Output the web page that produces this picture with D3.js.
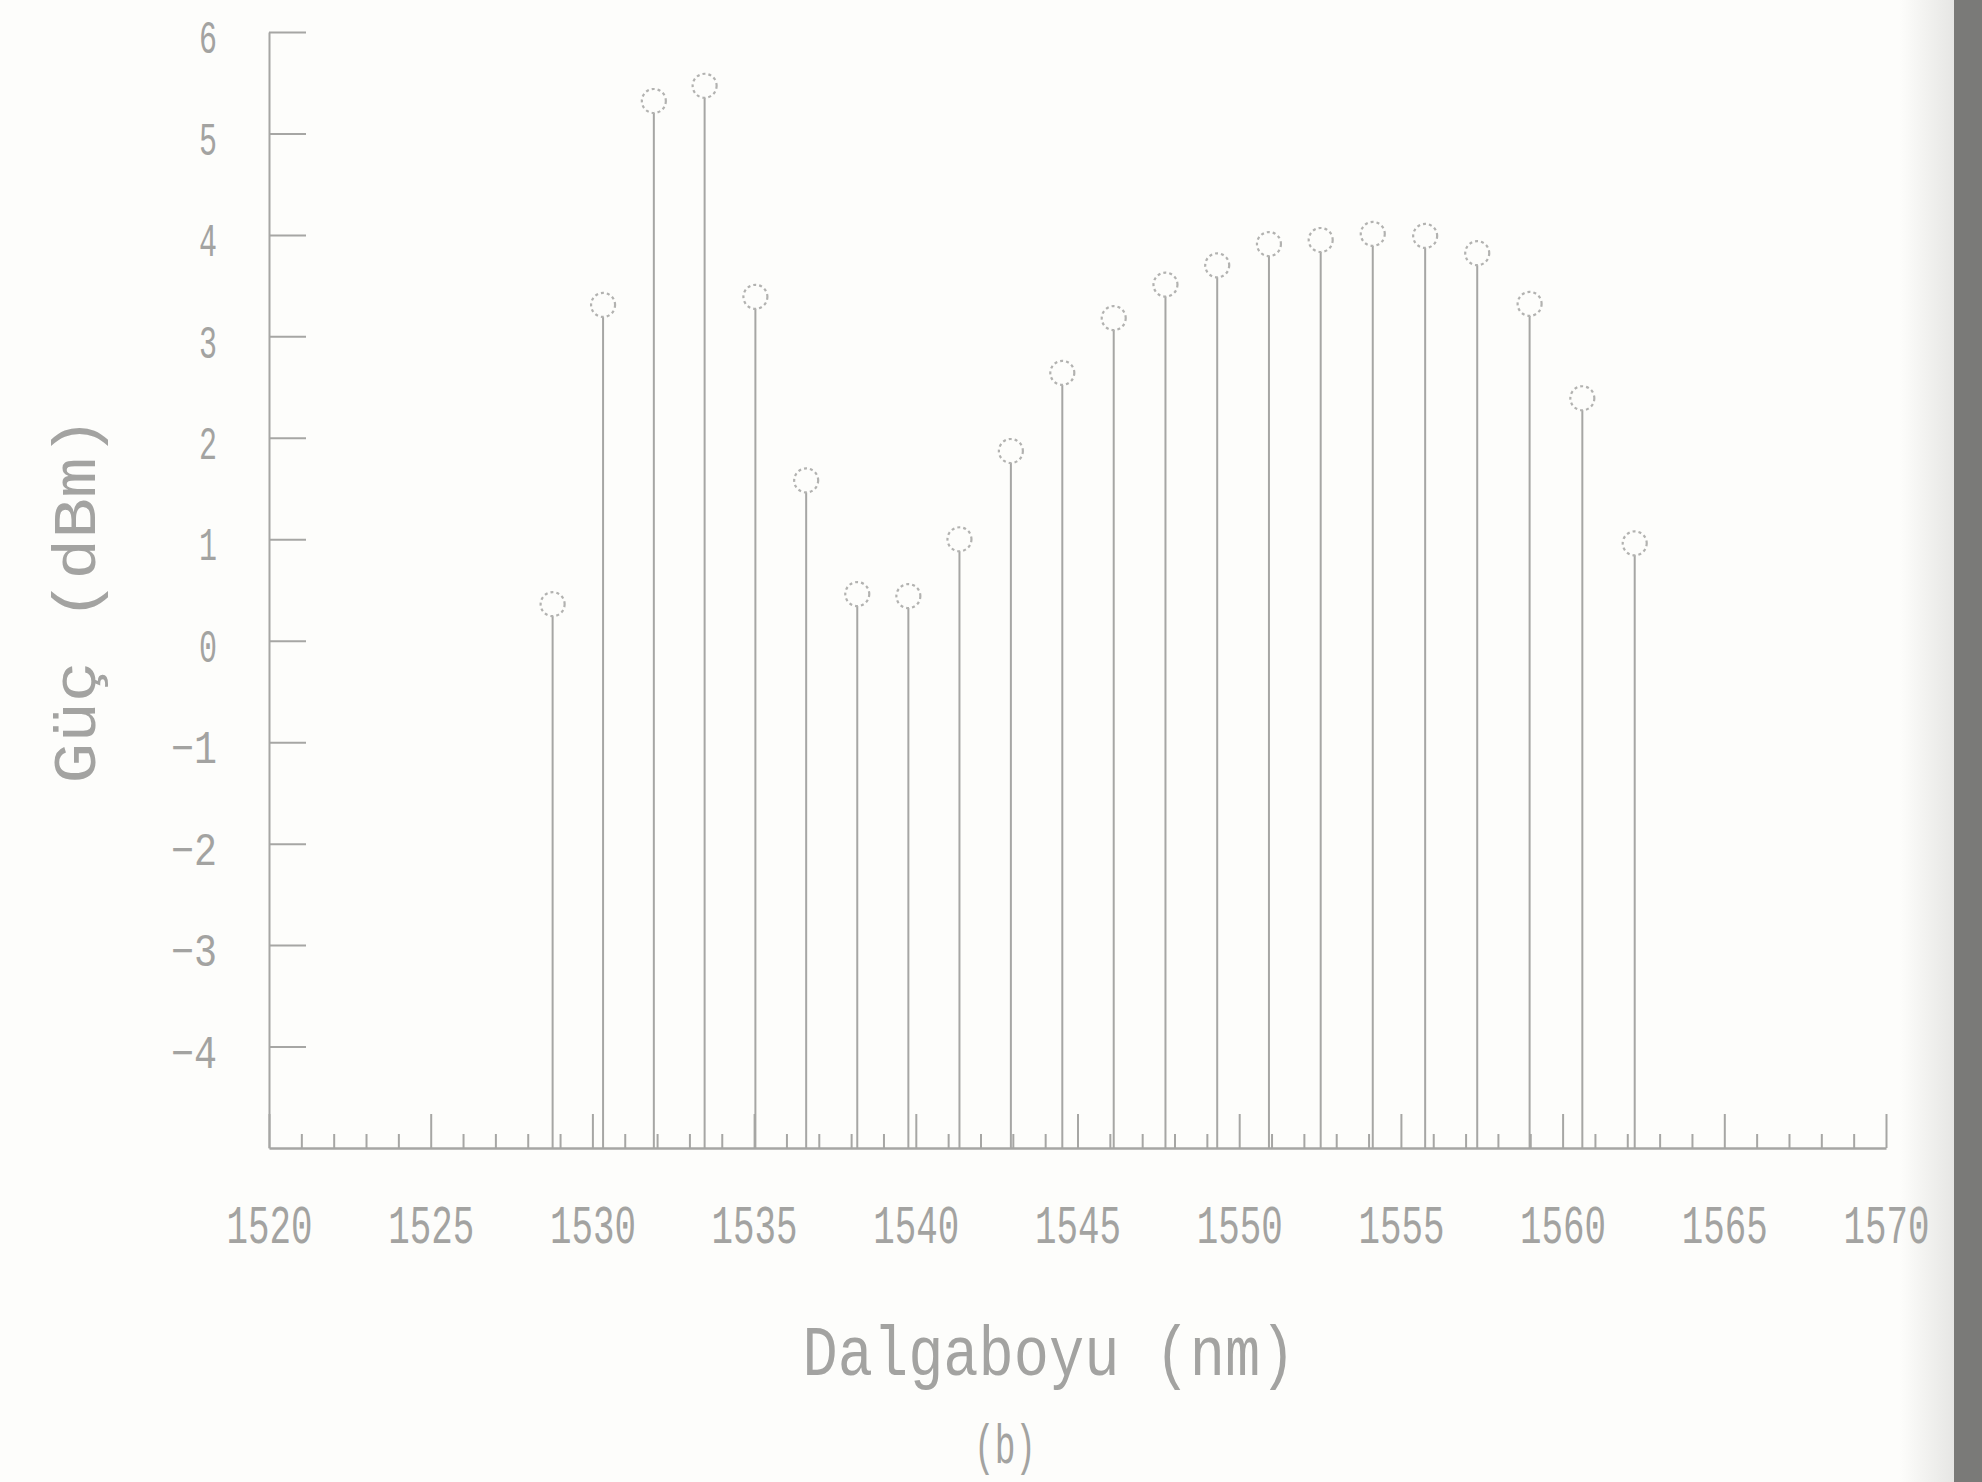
<!DOCTYPE html>
<html>
<head>
<meta charset="utf-8">
<script src="https://cdn.jsdelivr.net/npm/d3@7"></script>
<style>
  body { margin: 0; background: #fdfdfb; }
  svg { display: block; }
</style>
</head>
<body>
<div id="chart"></div>
<script>
const wavelengths = [1528.77, 1530.33, 1531.90, 1533.47, 1535.04, 1536.61, 1538.19, 1539.77,
  1541.35, 1542.94, 1544.53, 1546.12, 1547.72, 1549.32, 1550.92, 1552.52,
  1554.13, 1555.75, 1557.36, 1558.98, 1560.61, 1562.23];
const power = [0.36, 3.31, 5.32, 5.47, 3.39, 1.58, 0.46, 0.44,
  1.00, 1.87, 2.64, 3.18, 3.51, 3.70, 3.91, 3.95,
  4.01, 3.99, 3.82, 3.32, 2.39, 0.96];
const xTicks = [1520, 1525, 1530, 1535, 1540, 1545, 1550, 1555, 1560, 1565, 1570];
const xMinorTicks = d3.range(1521, 1570).filter((d) => d % 5 !== 0);
const yTicks = [-4, -3, -2, -1, 0, 1, 2, 3, 4, 5, 6];

const W = 1982;
const H = 1482;
const INK = '#a3a3a1';
const LINE = '#a6a6a4';
const FONT = '"Liberation Mono", "DejaVu Sans Mono", monospace';

const svg = d3.select('#chart').append('svg').attr('width', W).attr('height', H);

svg.append('rect').attr('width', W).attr('height', H).attr('fill', '#fdfdfb');

// scanner edge on the right
const grad = svg.append('defs').append('linearGradient').attr('id', 'edge');
grad.append('stop').attr('offset', '0%').attr('stop-color', '#fdfdfb');
grad.append('stop').attr('offset', '100%').attr('stop-color', '#e6e6e4');
svg.append('rect').attr('x', 1900).attr('y', 0).attr('width', 54).attr('height', H).attr('fill', 'url(#edge)');
svg.append('rect').attr('x', 1954).attr('y', 0).attr('width', W - 1954).attr('height', H).attr('fill', '#7a7a78');

const x = d3.scaleLinear().domain([1520, 1570]).range([269, 1886]);
const y = d3.scaleLinear().domain([-5, 6]).range([1148, 32]);

// y axis, ticks pointing inward
const gy = svg.append('g').attr('transform', `translate(${x(1520)},0)`)
  .call(d3.axisLeft(y).tickValues(yTicks).tickSize(-37).tickSizeOuter(0).tickPadding(52));
gy.select('.domain').attr('stroke', LINE).attr('stroke-width', 2);
gy.selectAll('.tick line').attr('stroke', LINE).attr('stroke-width', 2);
gy.selectAll('.tick text')
  .attr('fill', INK)
  .attr('font-family', FONT)
  .attr('font-size', 46)
  .attr('dy', '0.45em')
  .attr('lengthAdjust', 'spacingAndGlyphs')
  .attr('textLength', (d) => (d < 0 ? 46 : 18));

// x axis: major + minor ticks
const gxMinor = svg.append('g').attr('transform', `translate(0,${y(-5)})`)
  .call(d3.axisBottom(x).tickValues(xMinorTicks).tickSize(-14).tickFormat(''));
gxMinor.select('.domain').remove();
gxMinor.selectAll('.tick line').attr('stroke', LINE).attr('stroke-width', 2);

const gx = svg.append('g').attr('transform', `translate(0,${y(-5)})`)
  .call(d3.axisBottom(x).tickValues(xTicks).tickSize(-34).tickSizeOuter(0).tickFormat(d3.format('d')));
gx.select('.domain').attr('stroke', LINE).attr('stroke-width', 2.5);
gx.selectAll('.tick line').attr('stroke', LINE).attr('stroke-width', 2);
gx.selectAll('.tick text')
  .attr('fill', INK)
  .attr('font-family', FONT)
  .attr('font-size', 54)
  .attr('y', 76)
  .attr('dy', '0.36em')
  .attr('lengthAdjust', 'spacingAndGlyphs')
  .attr('textLength', 86);

// stems + circle markers
const R = 12;
const stems = svg.append('g');
wavelengths.forEach((w, i) => {
  stems.append('line')
    .attr('x1', x(w)).attr('x2', x(w))
    .attr('y1', y(-5)).attr('y2', y(power[i]) + R)
    .attr('stroke', LINE).attr('stroke-width', 2);
  stems.append('circle')
    .attr('cx', x(w)).attr('cy', y(power[i]))
    .attr('r', R)
    .attr('fill', 'none')
    .attr('stroke', '#b2b2b0')
    .attr('stroke-width', 2.2)
    .attr('stroke-dasharray', '3 3');
});

// axis titles
svg.append('text')
  .attr('x', 1049).attr('y', 1350).attr('dy', '0.35em')
  .attr('text-anchor', 'middle')
  .attr('fill', INK).attr('font-family', FONT).attr('font-size', 70)
  .attr('lengthAdjust', 'spacingAndGlyphs').attr('textLength', 493)
  .text('Dalgaboyu (nm)');

svg.append('text')
  .attr('transform', 'translate(73,600) rotate(-90)')
  .attr('dy', '0.35em')
  .attr('text-anchor', 'middle')
  .attr('fill', INK).attr('font-family', FONT).attr('font-size', 62)
  .attr('lengthAdjust', 'spacingAndGlyphs').attr('textLength', 367)
  .text('Güç (dBm)');

svg.append('text')
  .attr('x', 1005).attr('y', 1443).attr('dy', '0.35em')
  .attr('text-anchor', 'middle')
  .attr('fill', INK).attr('font-family', FONT).attr('font-size', 56)
  .attr('lengthAdjust', 'spacingAndGlyphs').attr('textLength', 62)
  .text('(b)');
</script>
</body>
</html>
